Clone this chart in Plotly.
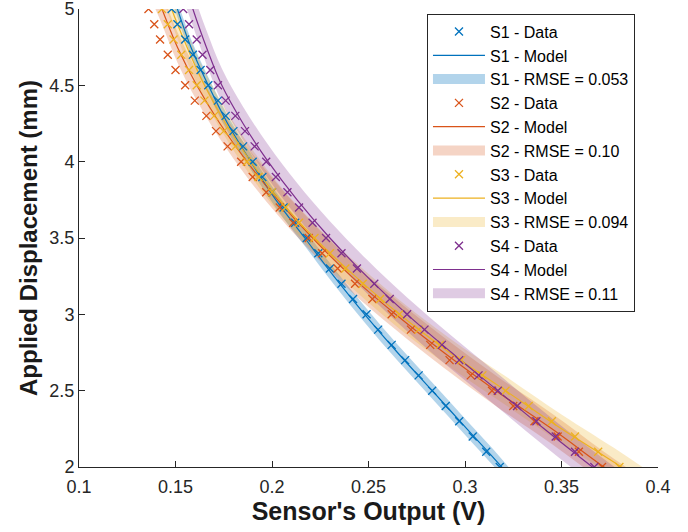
import plotly.graph_objects as go

# ---- data ----
disp = [2.0, 2.1, 2.2, 2.3, 2.4, 2.5, 2.6, 2.7, 2.8, 2.9, 3.0, 3.1, 3.2, 3.3, 3.4, 3.5,
        3.6, 3.7, 3.8, 3.9, 4.0, 4.1, 4.2, 4.3, 4.4, 4.5, 4.6, 4.7, 4.8, 4.9, 5.0]

s1_data = [0.318, 0.311, 0.304, 0.297, 0.290, 0.283, 0.276, 0.269, 0.262, 0.255, 0.249,
           0.242, 0.236, 0.230, 0.224, 0.218, 0.212, 0.206, 0.200, 0.195, 0.190, 0.185,
           0.180, 0.176, 0.172, 0.167, 0.163, 0.159, 0.155, 0.151, 0.148]
s2_data = [0.371, 0.359, 0.348, 0.336, 0.325, 0.314, 0.303, 0.292, 0.282, 0.272, 0.262,
           0.252, 0.243, 0.234, 0.226, 0.219, 0.211, 0.204, 0.197, 0.190, 0.184, 0.177,
           0.171, 0.166, 0.160, 0.155, 0.150, 0.146, 0.142, 0.139, 0.136]
s3_data = [0.380, 0.369, 0.357, 0.345, 0.333, 0.321, 0.309, 0.298, 0.287, 0.276, 0.266,
           0.256, 0.247, 0.238, 0.230, 0.222, 0.214, 0.207, 0.200, 0.193, 0.187, 0.181,
           0.175, 0.170, 0.165, 0.161, 0.157, 0.153, 0.149, 0.146, 0.143]
s4_data = [0.367, 0.357, 0.347, 0.337, 0.327, 0.317, 0.307, 0.297, 0.288, 0.279, 0.270,
           0.261, 0.253, 0.244, 0.236, 0.228, 0.221, 0.214, 0.208, 0.202, 0.197, 0.191,
           0.186, 0.181, 0.176, 0.172, 0.168, 0.164, 0.161, 0.157, 0.154]

model_disp = [1.8, 2.0, 2.25, 2.5, 2.75, 3.0, 3.25, 3.5, 3.75, 4.0, 4.25, 4.5, 4.75, 5.0, 5.2]
s1_model = [0.332, 0.319, 0.301, 0.283, 0.265, 0.248, 0.232, 0.217, 0.202, 0.189, 0.177,
            0.167, 0.158, 0.151, 0.146]
s2_model = [0.395, 0.372, 0.345, 0.316, 0.289, 0.264, 0.241, 0.221, 0.203, 0.187, 0.173,
            0.161, 0.151, 0.143, 0.137]
s3_model = [0.404, 0.381, 0.350, 0.321, 0.292, 0.266, 0.243, 0.222, 0.204, 0.189, 0.176,
            0.165, 0.156, 0.148, 0.143]
s4_model = [0.387, 0.366, 0.341, 0.317, 0.293, 0.270, 0.249, 0.230, 0.213, 0.198, 0.185,
            0.174, 0.166, 0.159, 0.154]

names = ["S1", "S2", "S3", "S4"]
rmse = [0.053, 0.10, 0.094, 0.11]
rmse_labels = ["0.053", "0.10", "0.094", "0.11"]
data_sets = [s1_data, s2_data, s3_data, s4_data]
model_sets = [s1_model, s2_model, s3_model, s4_model]

colors = ["#0072BD", "#D95319", "#EDB120", "#7E2F8E"]
band_colors = ["rgba(0,114,189,0.30)", "rgba(217,83,25,0.25)",
               "rgba(237,177,32,0.25)", "rgba(126,47,142,0.25)"]

FONT = "Liberation Sans, Arial, sans-serif"
AX = "#262626"

fig = go.Figure()

# bands first (drawn underneath)
for i in range(4):
    m = model_sets[i]
    upper_y = [v + rmse[i] for v in model_disp]
    lower_y = [v - rmse[i] for v in model_disp]
    fig.add_trace(go.Scatter(
        x=m + m[::-1], y=upper_y + lower_y[::-1],
        fill="toself", fillcolor=band_colors[i], mode="lines",
        line=dict(width=0, shape="spline"), hoverinfo="skip", showlegend=False))
    # legend swatch for the band
    fig.add_trace(go.Scatter(
        x=[None], y=[None], mode="lines",
        line=dict(color=band_colors[i], width=15),
        name=f"{names[i]} - RMSE = {rmse_labels[i]}", legendrank=10 * i + 3))

for i in range(4):
    fig.add_trace(go.Scatter(
        x=model_sets[i], y=model_disp, mode="lines",
        line=dict(color=colors[i], width=1.2, shape="spline"),
        name=f"{names[i]} - Model", legendrank=10 * i + 2))

for i in range(4):
    fig.add_trace(go.Scatter(
        x=data_sets[i], y=disp, mode="markers",
        marker=dict(symbol="x-thin", size=8, line=dict(color=colors[i], width=1.3)),
        name=f"{names[i]} - Data", legendrank=10 * i + 1))

fig.update_layout(
    width=688, height=532,
    margin=dict(l=79, r=30, t=9, b=65),
    paper_bgcolor="white", plot_bgcolor="white",
    font=dict(family=FONT, size=18, color=AX),
    showlegend=True,
    legend=dict(x=0.601, y=0.99, xanchor="left", yanchor="top",
                bordercolor=AX, borderwidth=1, bgcolor="white",
                font=dict(family=FONT, size=16, color="#000000"),
                itemwidth=52, tracegroupgap=0, maxheight=520),
    xaxis=dict(range=[0.1, 0.4], tickvals=[0.1, 0.15, 0.2, 0.25, 0.3, 0.35, 0.4],
               ticktext=["0.1", "0.15", "0.2", "0.25", "0.3", "0.35", "0.4"],
               ticks="inside", ticklen=6, tickcolor=AX, showline=True, linecolor=AX,
               linewidth=1, showgrid=False, zeroline=False, mirror=False,
               automargin=False, ticklabelstandoff=3, ticklabeloverflow="allow",
               tickfont=dict(size=18, color=AX),
               title=dict(text="<b>Sensor's Output (V)</b>", font=dict(size=25, color="#1a1a1a"),
                          standoff=6)),
    yaxis=dict(range=[2, 5], tickvals=[2, 2.5, 3, 3.5, 4, 4.5, 5],
               ticktext=["2", "2.5", "3", "3.5", "4", "4.5", "5"],
               ticks="inside", ticklen=6, tickcolor=AX, showline=True, linecolor=AX,
               linewidth=1, showgrid=False, zeroline=False, mirror=False,
               automargin=False, ticklabelstandoff=0, ticklabeloverflow="allow",
               tickfont=dict(size=18, color=AX),
               title=dict(text="<b>Applied Displacement (mm)</b>", font=dict(size=24, color="#1a1a1a"),
                          standoff=4)),
)

fig.write_html("out.html", config={"displayModeBar": False},
               post_script="document.body.style.margin='0';")
